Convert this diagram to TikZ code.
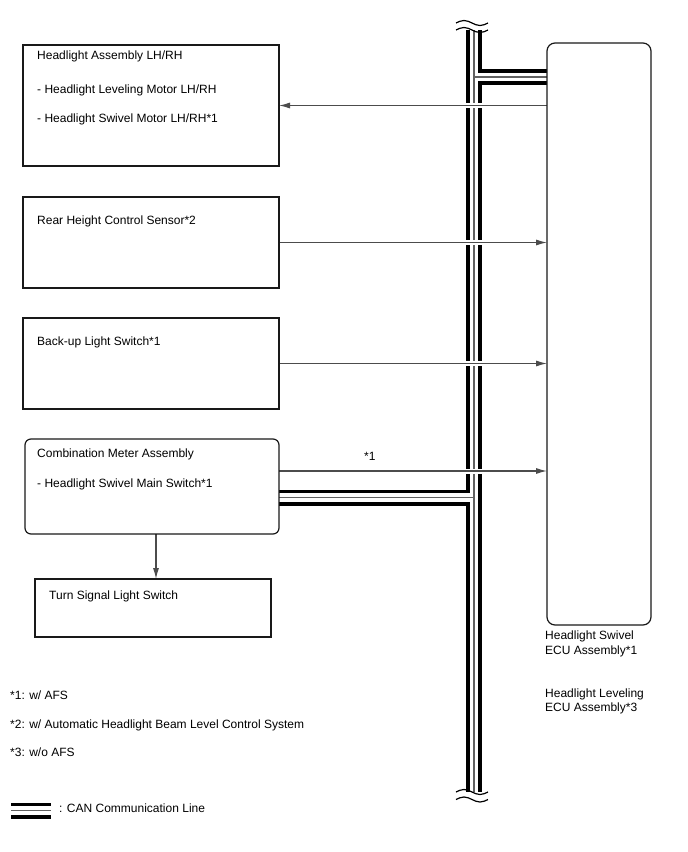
\documentclass[tikz,border=0pt]{standalone}
\usepackage{fontspec}
\setmainfont{Liberation Sans}
\usetikzlibrary{arrows.meta,calc}
\pgfdeclarelayer{buslayer}
\pgfsetlayers{buslayer,main}
\begin{document}
\begin{tikzpicture}[x=1pt,y=-1pt,
  box/.style={draw=black!90, line width=1.2pt, inner sep=0pt, outer sep=0pt, anchor=north west},
  txt/.style={anchor=base west, inner sep=0pt, font=\fontsize{12}{14}\selectfont},
  sig/.style={draw=black!70, line width=1.1pt, -{Latex[length=11pt,width=6pt]},
              preaction={draw=white, line width=5pt, arrows=-}},
  busk/.style={line width=16pt, draw=black},
  busw/.style={line width=8.5pt, draw=white},
  busg/.style={line width=1.2pt, draw=black!62},
  wave/.style={draw=black, line width=1.2pt}]
\useasboundingbox (0,0) rectangle (688,852);

% boxes
\node[box, minimum width=256pt, minimum height=121pt] (hl) at (23,45) {};
\node[box, minimum width=256pt, minimum height=91pt] (rh) at (23,197) {};
\node[box, minimum width=256pt, minimum height=91pt] (bu) at (23,318) {};
\node[box, rounded corners=6pt, minimum width=254pt, minimum height=95pt] (cm) at (25,439) {};
\node[box, minimum width=236pt, minimum height=58pt] (ts) at (35,579) {};
\node[box, rounded corners=8pt, minimum width=104pt, minimum height=582pt] (ecu) at (547,43) {};

% texts
\node[txt] (t1a) at (37,59) {Headlight Assembly LH/RH};
\node[txt] (t1b) at (37,93) {- Headlight Leveling Motor LH/RH};
\node[txt] (t1c) at (37,122) {- Headlight Swivel Motor LH/RH*1};
\node[txt] (t2) at (37,224) {Rear Height Control Sensor*2};
\node[txt] (t3) at (37,345) {Back-up Light Switch*1};
\node[txt] (t4a) at (37,457) {Combination Meter Assembly};
\node[txt] (t4b) at (37,487) {- Headlight Swivel Main Switch*1};
\node[txt] (t5) at (49,599) {Turn Signal Light Switch};
\node[txt] (e1) at (545,639) {Headlight Swivel};
\node[txt] (e2) at (545,654) {ECU Assembly*1};
\node[txt] (e3) at (545,697) {Headlight Leveling};
\node[txt] (e4) at (545,711) {ECU Assembly*3};
\node[txt] (f1) at (10,699) {*1: w/ AFS};
\node[txt] (f2) at (10,728) {*2: w/ Automatic Headlight Beam Level Control System};
\node[txt] (f3) at (10,756) {*3: w/o AFS};
\node[txt] (lg) at (59,812) {: CAN Communication Line};
\node[txt] (s1) at (364,460) {*1};

% coordinates
\coordinate (bt) at (474,30);
\coordinate (bb) at (474,792);
\coordinate (j1) at (474,77);
\coordinate (j2) at (474,497.5);
\coordinate (c4) at (279,471);
\coordinate (c5) at (156,534);
\coordinate (l1) at (11,810.5);
\coordinate (l2) at (51,810.5);

\begin{pgfonlayer}{buslayer}
\draw[busk] (bt) -- (bb) (j1) -- (ecu.west |- j1) (j2) -- (cm.east |- j2) (l1) -- (l2);
\draw[busw] (bt) -- (bb) (j1) -- (ecu.west |- j1) (j2) -- (cm.east |- j2) (l1) -- (l2);
\draw[busg] (bt) -- (bb) (j1) -- (ecu.west |- j1) (j2) -- (cm.east |- j2) (l1) -- (l2);

\draw[sig] (ecu.west |- hl.east) -- (hl.east);
\draw[sig] (rh.east) -- (ecu.west |- rh.east);
\draw[sig] (bu.east) -- (ecu.west |- bu.east);
\draw[sig] (cm.east |- c4) -- (ecu.west |- c4);
\draw[sig] (c5) -- (ts.north -| c5);
\end{pgfonlayer}

% break marks
\draw[wave] (456,23) sin (464,20.5) cos (472,23) sin (480,25.5) cos (488,23);
\draw[wave] (456,30) sin (464,27.5) cos (472,30) sin (480,32.5) cos (488,30);
\draw[wave] (456,792) sin (464,789.5) cos (472,792) sin (480,794.5) cos (488,792);
\draw[wave] (456,799.5) sin (464,797) cos (472,799.5) sin (480,802) cos (488,799.5);
\end{tikzpicture}
\end{document}
